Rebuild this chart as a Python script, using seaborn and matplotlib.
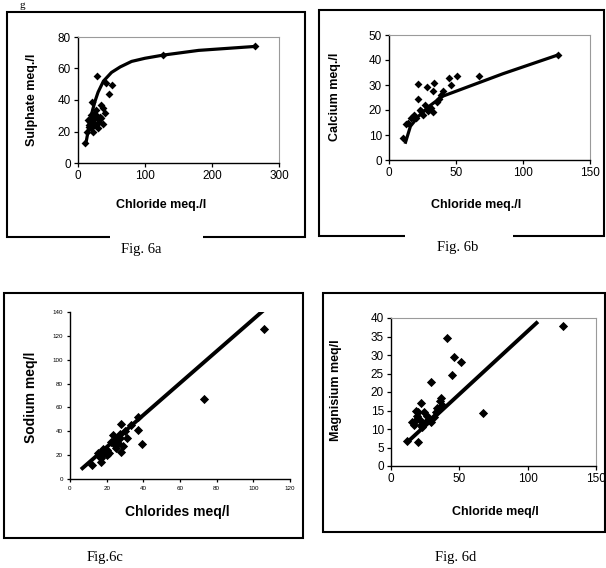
import numpy as np
import pandas as pd
import matplotlib
matplotlib.use("Agg")
import matplotlib.pyplot as plt
from matplotlib.patches import Rectangle
import seaborn as sns

# ---------------- data ----------------
# Fig. 6a  Chloride vs Sulphate
a_chloride = [264, 127, 29, 50, 42, 46, 21, 34, 37, 27, 40, 20, 35, 15, 25, 37, 17, 30,
              14, 22, 11, 18, 23, 28, 32, 19, 26, 31, 24, 16, 33, 21]
a_sulphate = [74.5, 68.5, 55, 49.5, 51, 43.5, 39, 37, 35, 33.5, 31.5, 30.5, 28.5, 27.5, 25, 25, 23, 22,
              20, 20, 13, 26, 28, 30, 27, 22, 24, 26, 31, 24, 29, 25]
a_trend_x = [12, 15, 18, 22, 26, 30, 38, 50, 63, 80, 100, 127, 180, 264]
a_trend_y = [13, 20, 27, 34, 40, 45, 52, 57.5, 61, 64.5, 66.5, 68.5, 71.5, 74]

# Fig. 6b  Chloride vs Calcium
b_chloride = [126, 67, 45, 51, 46, 22, 28, 33.5, 33, 22, 40, 39, 35.5, 33, 26.5, 23, 19, 16.5,
              14, 10.5, 29, 25.5, 20.5, 13, 18, 31, 37, 24]
b_calcium = [42, 33.8, 33, 33.5, 30, 30.3, 29.2, 30.8, 27.8, 24.6, 27.8, 26, 23.3, 19.3, 22, 20, 18, 16.7,
             14.7, 9, 19.5, 18.2, 16.8, 14.3, 17.3, 21, 24.5, 19.5]
b_trend_x = [12, 16, 22, 30, 40, 60, 85, 126]
b_trend_y = [6.5, 13.5, 17.5, 21.5, 25.5, 29.5, 34.5, 42]

# Fig. 6c  Chlorides vs Sodium
c_chlorides = [106, 73, 37, 37, 39, 28, 33, 28, 23.5, 30, 27, 31, 24.5, 22.5, 18, 15.5, 17, 20,
               12, 17, 19, 21, 26, 25, 29, 16, 18, 20, 24, 27]
c_sodium = [125.5, 67, 52, 41, 29, 46.5, 45, 22.5, 37, 40, 34, 34, 28.5, 31, 25.5, 21.5, 17.5, 20,
            12, 14, 23, 22, 30, 26, 28, 19, 21, 24, 32, 38]
c_trend_x = [6, 106]
c_trend_y = [8, 142]

# Fig. 6d  Chloride vs Magnisium
d_chloride = [126, 67, 41, 46, 51, 44.5, 29, 36.5, 35.5, 22, 20, 12, 18, 24.5, 34, 31.5, 15, 21,
              27, 29.5, 17, 23, 19, 20, 26, 33, 22, 25, 37, 18]
d_magnisium = [37.8, 14.4, 34.5, 29.5, 28, 24.5, 22.8, 18.5, 17.5, 17, 6.5, 6.8, 15, 14.5, 15.8, 13.3, 11.8, 12.4,
               12.4, 11.8, 11, 10.5, 13.5, 14.5, 13.5, 14.5, 11, 11.5, 16.5, 12.5]
d_trend_x = [13, 107.5]
d_trend_y = [6.8, 39]

# ---------------- figure ----------------
sns.set_theme(style="white")
plt.rcParams["font.family"] = ["Liberation Sans", "DejaVu Sans"]

W, H = 606, 568
fig = plt.figure(figsize=(W / 100, H / 100), dpi=100)
fig.patch.set_facecolor("white")


def px_axes(l, t, r, b):
    return fig.add_axes([l / W, 1 - b / H, (r - l) / W, (b - t) / H])


def box(l, t, r, b, gap=None):
    fig.add_artist(Rectangle((l / W, 1 - b / H), (r - l) / W, (b - t) / H,
                             transform=fig.transFigure, fill=False,
                             edgecolor="black", lw=1.5, zorder=0))
    if gap is not None:
        g0, g1 = gap
        fig.add_artist(Rectangle((g0 / W, 1 - (b + 3) / H), (g1 - g0) / W, 6 / H,
                                 transform=fig.transFigure, facecolor="white",
                                 edgecolor="none", zorder=1))


def caption(text, cx, cy):
    fig.text(cx / W, 1 - cy / H, text, ha="center", va="center",
             family=["Liberation Serif", "DejaVu Serif"], fontsize=10.5, color="black")


def style_axes(ax, box_px, gray_frame, tick_fs, lab_fs, xlab, ylab, xlab_px, ylab_px):
    l, t, r, b = box_px
    for s in ["left", "bottom"]:
        ax.spines[s].set_color("black")
        ax.spines[s].set_linewidth(1.0)
    for s in ["top", "right"]:
        if gray_frame:
            ax.spines[s].set_visible(True)
            ax.spines[s].set_color("#9a9a9a")
            ax.spines[s].set_linewidth(0.8)
        else:
            ax.spines[s].set_visible(False)
    ax.tick_params(axis="both", which="major", direction="out", length=3, width=0.9,
                   color="black", labelsize=tick_fs, labelcolor="black", pad=2,
                   bottom=True, left=True)
    ax.set_facecolor("white")
    ax.set_xlabel(xlab, fontsize=lab_fs, fontweight="bold", color="black")
    ax.set_ylabel(ylab, fontsize=lab_fs, fontweight="bold", color="black")
    cx, cy = xlab_px
    ax.xaxis.set_label_coords((cx - l) / (r - l), (b - cy) / (b - t))
    ax.xaxis.label.set_va("center")
    cx, cy = ylab_px
    ax.yaxis.set_label_coords((cx - l) / (r - l), (b - cy) / (b - t))
    ax.yaxis.label.set_va("center")
    ax.yaxis.label.set_ha("center")


def panel(box_px, xs, ys, tx, ty, xlim, xticks, ylim, yticks, msize, lw):
    ax = px_axes(*box_px)
    df = pd.DataFrame({"x": xs, "y": ys})
    tr = pd.DataFrame({"x": tx, "y": ty})
    sns.lineplot(data=tr, x="x", y="y", ax=ax, color="black", lw=lw, sort=False,
                 estimator=None, zorder=3)
    sns.scatterplot(data=df, x="x", y="y", ax=ax, marker="D", s=msize, color="black",
                    edgecolor="black", linewidth=0, zorder=4)
    ax.set_xlim(*xlim)
    ax.set_ylim(*ylim)
    ax.set_xticks(xticks)
    ax.set_yticks(yticks)
    for ln in ax.lines:
        ln.set_solid_capstyle("butt")
    return ax


# ---- outer frames ----
box(7, 12, 305, 237, gap=(110, 203))
box(319, 10, 604, 236, gap=(405, 513))
box(4, 293, 303, 538)
box(323, 293, 605, 532)

# ---- Fig 6a ----
pa = (78, 37, 279, 163)
axa = panel(pa, a_chloride, a_sulphate, a_trend_x, a_trend_y,
            (0, 300), [0, 100, 200, 300], (0, 80), [0, 20, 40, 60, 80], 16, 2.3)
style_axes(axa, pa, True, 8.5, 9, "Chloride meq./l", "Sulphate meq./l",
           (161, 205), (32, 100))

# ---- Fig 6b ----
pb = (389, 35, 590, 160)
axb = panel(pb, b_chloride, b_calcium, b_trend_x, b_trend_y,
            (0, 150), [0, 50, 100, 150], (0, 50), [0, 10, 20, 30, 40, 50], 16, 2.3)
style_axes(axb, pb, True, 8.5, 9, "Chloride meq./l", "Calcium meq./l",
           (476, 205), (335, 97))

# ---- Fig 6c ----
pc = (70, 312, 290, 479)
axc = panel(pc, c_chlorides, c_sodium, c_trend_x, c_trend_y,
            (0, 120), [0, 20, 40, 60, 80, 100, 120], (0, 140),
            [0, 20, 40, 60, 80, 100, 120, 140], 22, 2.8)
style_axes(axc, pc, False, 4.5, 10, "Chlorides meq/l", "Sodium meq/l",
           (177, 512), (31, 397))
axc.tick_params(length=2, pad=3)

# ---- Fig 6d ----
pd_ = (391, 318, 596, 466)
axd = panel(pd_, d_chloride, d_magnisium, d_trend_x, d_trend_y,
            (0, 150), [0, 50, 100, 150], (0, 40), [0, 5, 10, 15, 20, 25, 30, 35, 40], 22, 2.8)
style_axes(axd, pd_, True, 8.5, 9, "Chloride meq/l", "Magnisium meq/l",
           (495, 512), (336, 390))

# ---- captions ----
caption("Fig. 6a", 141, 249)
caption("Fig. 6b", 458, 248)
caption("Fig.6c", 105, 557)
caption("Fig. 6d", 456, 557)
fig.text(20 / W, 1 - 0.5 / H, "g", ha="left", va="top",
         family=["Liberation Serif", "DejaVu Serif"], fontsize=8, color="black")

fig.savefig("out.png", dpi=100, facecolor="white")
